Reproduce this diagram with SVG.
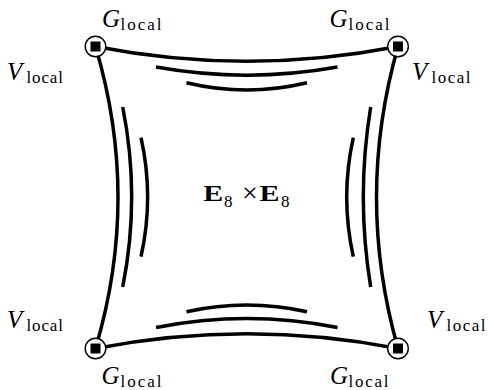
<svg xmlns="http://www.w3.org/2000/svg" width="488" height="390" viewBox="0 0 488 390">
<style>
.edge{fill:none;stroke:#000;stroke-width:3.5;stroke-linecap:butt}
.ring{fill:#fff;stroke:#000;stroke-width:1.4}
.sq{fill:#000}
.it{font-family:"Liberation Serif","DejaVu Serif",serif;font-style:italic;font-size:25px;fill:#000}
.sub{font-family:"Liberation Serif","DejaVu Serif",serif;font-size:17px;fill:#000}
.bf{font-family:"Liberation Serif","DejaVu Serif",serif;font-weight:bold;font-size:24px;fill:#000}
.rm{font-family:"Liberation Serif","DejaVu Serif",serif;font-size:28px;fill:#000}
</style>
<rect width="488" height="390" fill="#fff"/>
<g id="connectors">
<path class="edge" d="M95.5,46.5 Q246.75,76 398,46.5"/>
<path class="edge" d="M156,67 Q246.75,83.3 337.5,67"/>
<path class="edge" d="M186.5,82.8 Q246.75,97.3 307,82.8"/>
<path class="edge" d="M95.5,348.5 Q246.75,319 398,348.5"/>
<path class="edge" d="M156,327.5 Q246.75,309.5 337.5,327.5"/>
<path class="edge" d="M186.5,311.7 Q246.75,298.3 307,311.7"/>
<path class="edge" d="M95.5,46.5 Q140.5,197.5 95.5,348.5"/>
<path class="edge" d="M122.7,107 Q140.7,197 122.7,287"/>
<path class="edge" d="M141,137.7 Q154.3,197 141,256.7"/>
<path class="edge" d="M398,46.5 Q355,197.5 398,348.5"/>
<path class="edge" d="M370.7,107 Q355.9,197 370.7,287"/>
<path class="edge" d="M353.3,137.7 Q340.1,197 353.3,256.7"/>
</g>
<g id="node-tl">
<circle class="ring" cx="95.5" cy="46.5" r="10.3"/>
<rect class="sq" x="90.5" y="41.5" width="10" height="10"/>
<text class="it" x="102" y="27">G</text><text class="sub" x="120.5" y="29.5" textLength="41" lengthAdjust="spacing">local</text>
<text class="it" x="7" y="80">V</text><text class="sub" x="26.5" y="82.5" textLength="36.5" lengthAdjust="spacing">local</text>
</g>
<g id="node-tr">
<circle class="ring" cx="398" cy="46.5" r="10.3"/>
<rect class="sq" x="393" y="41.5" width="10" height="10"/>
<text class="it" x="329.5" y="27">G</text><text class="sub" x="348.5" y="29.5" textLength="41" lengthAdjust="spacing">local</text>
<text class="it" x="412" y="80">V</text><text class="sub" x="431.5" y="82.5" textLength="39" lengthAdjust="spacing">local</text>
</g>
<g id="node-bl">
<circle class="ring" cx="95.5" cy="348.5" r="10.3"/>
<rect class="sq" x="90.5" y="343.5" width="10" height="10"/>
<text class="it" x="101.5" y="384">G</text><text class="sub" x="120.5" y="386.5" textLength="41" lengthAdjust="spacing">local</text>
<text class="it" x="7" y="328.3">V</text><text class="sub" x="26.5" y="330.8" textLength="36.5" lengthAdjust="spacing">local</text>
</g>
<g id="node-br">
<circle class="ring" cx="398" cy="348.5" r="10.3"/>
<rect class="sq" x="393" y="343.5" width="10" height="10"/>
<text class="it" x="330" y="384">G</text><text class="sub" x="348.5" y="386.5" textLength="40" lengthAdjust="spacing">local</text>
<text class="it" x="427" y="328.3">V</text><text class="sub" x="446.5" y="330.8" textLength="39" lengthAdjust="spacing">local</text>
</g>
<g id="center-label">
<text class="bf" x="203.3" y="200.7" textLength="20" lengthAdjust="spacingAndGlyphs">E</text>
<text class="sub" x="224" y="207.3">8</text>
<text class="rm" x="250" y="202" text-anchor="middle">×</text>
<text class="bf" x="259.5" y="200.7" textLength="20" lengthAdjust="spacingAndGlyphs">E</text>
<text class="sub" x="281" y="207.3">8</text>
</g>
</svg>
